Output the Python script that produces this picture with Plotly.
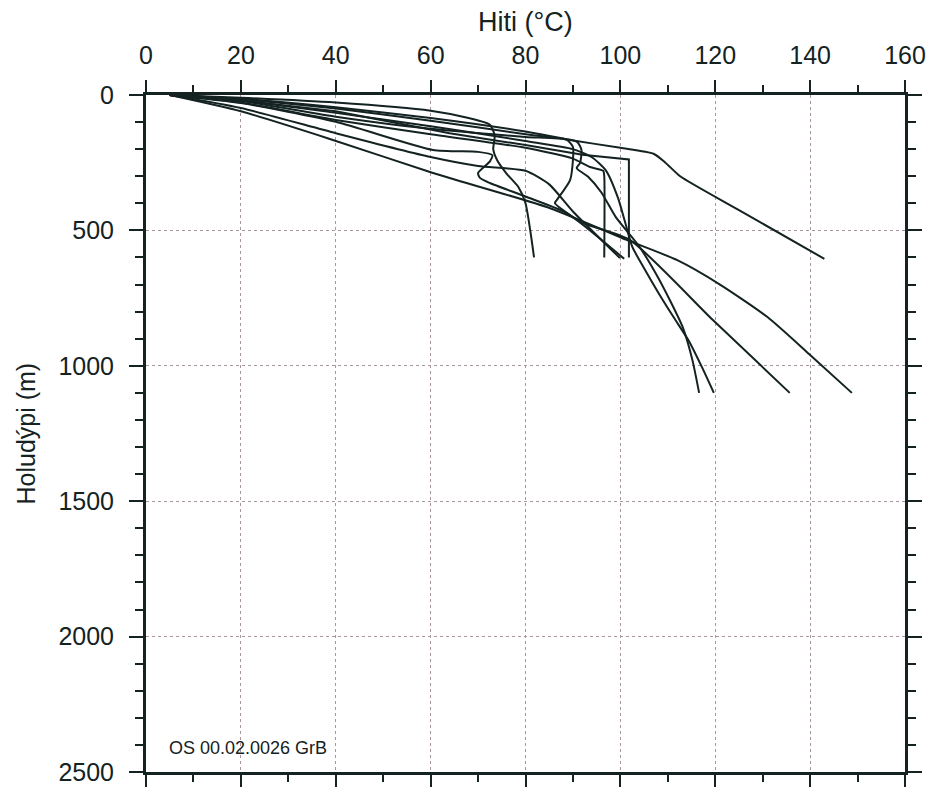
import plotly.graph_objects as go

# Temperature (°C) vs. depth (m) logs for each well
hiti_1 = [5, 20, 40, 60, 68, 72.5, 73.5, 73.2, 74, 76, 78.5, 80, 81, 81.8]
dypi_1 = [0, 10, 28, 58, 85, 110, 150, 200, 240, 290, 340, 400, 500, 600]

hiti_2 = [5, 20, 40, 60, 80, 90, 93.6, 96.4, 96.6, 96.6]
dypi_2 = [0, 28, 92, 145, 195, 235, 266, 280, 300, 600]

hiti_3 = [5, 20, 40, 64, 80, 92, 101.8, 101.8]
dypi_3 = [0, 20, 60, 141, 185, 221, 238, 600]

hiti_4 = [5, 20, 40, 60, 70, 80, 85, 90, 99.9]
dypi_4 = [0, 48, 141, 229, 262, 280, 330, 430, 602]

hiti_5 = [5, 20, 40, 60.5, 70, 73, 72.5, 70, 70.4, 72.5, 80, 88.7, 100.8]
dypi_5 = [0, 30, 99, 203, 210, 222, 245, 288, 306, 325, 375, 436, 605]

hiti_6 = [5, 20, 40, 60, 80, 89.4, 100, 107, 109.5, 112.6, 125, 143]
dypi_6 = [0, 14, 45, 85, 135, 166, 195, 217, 250, 300, 425, 605]

hiti_7 = [5, 20, 39.4, 60.5, 85.2, 101.3, 112, 121, 131, 140, 148.8]
dypi_7 = [0, 60, 166, 288, 418, 535, 610, 700, 820, 960, 1100]

hiti_8 = [5, 20, 40, 60, 80, 88.7, 90, 90, 89.4, 86.6, 86.2, 87.9, 92.2, 102, 119.5, 135.7]
dypi_8 = [0, 22, 80, 125, 155, 166, 192, 240, 314, 388, 399, 425, 473, 535, 831, 1100]

hiti_9 = [5, 20, 40, 60, 80, 90.8, 91.8, 91.5, 90.8, 93.2, 96, 99, 104, 107.5, 110.5, 113.2, 115.2, 116.6]
dypi_9 = [0, 16, 50, 95, 145, 172, 203, 251, 270, 302, 360, 450, 560, 660, 760, 860, 980, 1100]

hiti_10 = [5, 20, 40, 60, 80, 90, 94, 97, 99.5, 101, 102.5, 105, 108, 111.2, 114.5, 117.2, 119.7]
dypi_10 = [0, 20, 66, 115, 170, 200, 230, 280, 380, 470, 560, 640, 730, 820, 910, 1005, 1100]

wells = [
    (hiti_1, dypi_1), (hiti_2, dypi_2), (hiti_3, dypi_3), (hiti_4, dypi_4),
    (hiti_5, dypi_5), (hiti_6, dypi_6), (hiti_7, dypi_7), (hiti_8, dypi_8),
    (hiti_9, dypi_9), (hiti_10, dypi_10),
]
# logs with sharp steps are drawn straight, the rest smoothed
sharp = {2}

x_ticks = [0, 20, 40, 60, 80, 100, 120, 140, 160]
y_ticks = [0, 500, 1000, 1500, 2000, 2500]

INK = "#142222"
GRID = "#a8969f"
FONT = "Liberation Sans, Arial, Helvetica, sans-serif"

fig = go.Figure()
for i, (hx, dy) in enumerate(wells):
    shape = "linear" if i in sharp else "spline"
    fig.add_trace(go.Scatter(
        x=hx, y=dy, mode="lines",
        line=dict(color=INK, width=2, shape=shape, smoothing=0.6),
        showlegend=False, hoverinfo="skip",
    ))

axis_common = dict(
    showline=True, linewidth=3, linecolor=INK, mirror="allticks",
    ticks="outside", tickwidth=2, tickcolor=INK,
    showgrid=True, gridcolor=GRID, gridwidth=1, griddash="dot",
    zeroline=False, automargin=False,
    tickfont=dict(family=FONT, size=25, color=INK),
)

fig.update_xaxes(
    range=[0, 160], side="top", tickvals=x_ticks, ticklen=12,
    minor=dict(dtick=10, tick0=0, ticks="outside", ticklen=7,
               tickwidth=2, tickcolor=INK, showgrid=False),
    ticklabelstandoff=6,
    **axis_common,
)
fig.update_yaxes(
    range=[2500, 0], tickvals=y_ticks, ticklen=14,
    minor=dict(dtick=100, tick0=0, ticks="outside", ticklen=8,
               tickwidth=2, tickcolor=INK, showgrid=False),
    ticklabelstandoff=10,
    **axis_common,
)

fig.add_annotation(
    text="Hiti (°C)", xref="paper", yref="paper", x=0.5, y=1,
    xanchor="center", yanchor="middle", yshift=73, showarrow=False,
    font=dict(family=FONT, size=27, color=INK),
)
fig.add_annotation(
    text="Holudýpi (m)", xref="paper", yref="paper", x=0, y=0.5,
    xanchor="center", yanchor="middle", xshift=-121, textangle=-90,
    showarrow=False, font=dict(family=FONT, size=25, color=INK),
)
fig.add_annotation(
    text="OS 00.02.0026 GrB", xref="x", yref="y", x=4.4, y=2411,
    xanchor="left", yanchor="middle", showarrow=False,
    font=dict(family=FONT, size=18, color=INK),
)

fig.update_layout(
    width=931, height=788,
    margin=dict(l=146, r=26, t=95, b=16),
    paper_bgcolor="white", plot_bgcolor="white",
)

fig.write_html("out.html")
